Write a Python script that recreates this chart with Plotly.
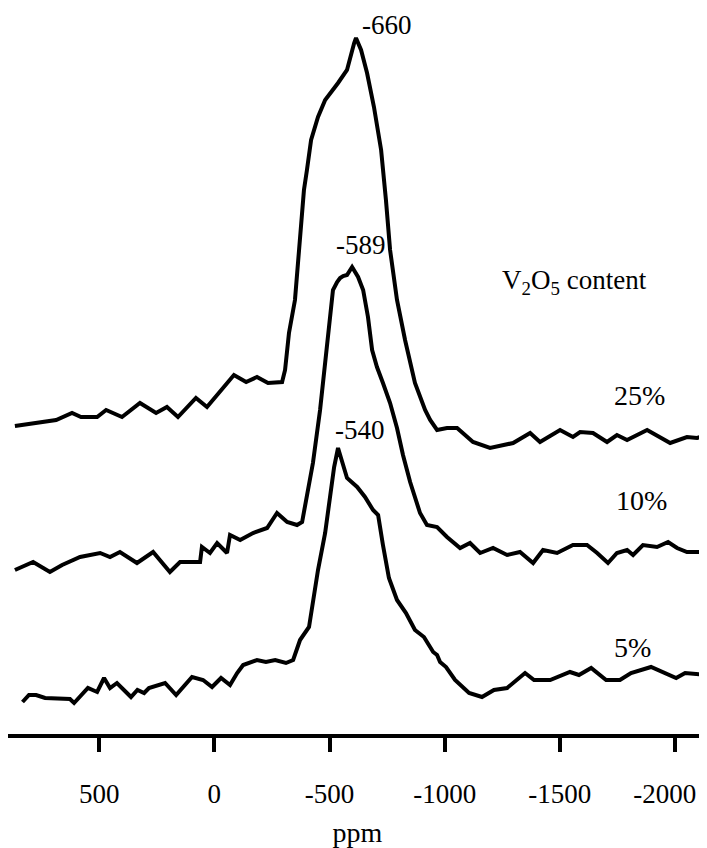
import plotly.graph_objects as go

# ---- data (ppm, intensity a.u. relative to each trace's own baseline) ----
ppm_25 = [866, 774, 687, 618, 579, 509, 470, 401, 323, 253, 206, 158, 80, 32, -85, -138, -185,
          -233, -294, -307, -324, -350, -372, -389, -402, -420, -450, -481, -537, -576, -607,
          -615, -637, -663, -693, -724, -745, -763, -793, -828, -871, -915, -937, -967, -1010,
          -1054, -1123, -1197, -1297, -1371, -1414, -1501, -1557, -1588, -1644, -1705, -1748,
          -1792, -1879, -1979, -2052, -2096, -2139]
int_25 = [4, 7, 10, 17, 13, 13, 20, 13, 27, 17, 23, 13, 32, 23, 55, 48, 53,
          47, 48, 60, 97, 130, 197, 240, 260, 290, 313, 330, 347, 360, 387,
          392, 380, 357, 323, 280, 230, 180, 130, 90, 47, 20, 10, 0, 2,
          2, -12, -18, -13, -3, -12, 0, -7, -2, -3, -12, -5,
          -10, 0, -13, -7, -8, -5]

ppm_10 = [866, 787, 714, 661, 583, 496, 453, 410, 336, 266, 193, 149, 62, 54, 19, -12, -55,
          -68, -112, -168, -229, -272, -316, -359, -381, -402, -428, -459, -481, -502, -515,
          -533, -546, -559, -576, -598, -624, -646, -667, -685, -706, -732, -763, -793, -819,
          -850, -893, -923, -967, -1010, -1067, -1110, -1154, -1210, -1271, -1327, -1384,
          -1427, -1488, -1557, -1618, -1662, -1709, -1748, -1792, -1818, -1861, -1922, -1970,
          -2009, -2052, -2139]
int_10 = [-10, -2, -12, -5, 3, 7, 3, 8, -3, 8, -12, -2, -2, 13, 7, 17, 7,
          25, 20, 27, 32, 47, 38, 35, 38, 63, 97, 150, 198, 243, 270,
          278, 282, 284, 285, 293, 283, 270, 243, 210, 193, 177, 157, 132, 105,
          78, 47, 35, 33, 23, 12, 17, 7, 12, 5, 8, -3,
          10, 7, 15, 15, 7, -3, 7, 10, 5, 15, 13, 18,
          12, 8, 8]

ppm_5 = [833, 805, 774, 735, 627, 609, 549, 509, 479, 453, 423, 362, 334, 305, 284, 214, 166,
         97, 49, 10, -29, -68, -99, -125, -185, -224, -264, -311, -342, -372, -411, -420,
         -428, -450, -481, -502, -520, -537, -554, -576, -620, -654, -689, -711, -732, -758,
         -793, -832, -871, -910, -950, -967, -980, -1006, -1045, -1106, -1162, -1214, -1271,
         -1349, -1388, -1458, -1544, -1583, -1636, -1701, -1761, -1809, -1896, -1948, -2005,
         -2044, -2139]
int_5 = [-12, -5, -5, -8, -9, -13, 2, -2, 12, 2, 7, -7, 0, -3, 2, 7, -5,
         13, 10, 3, 12, 5, 17, 25, 30, 28, 30, 27, 30, 50, 63, 77,
         90, 120, 157, 195, 223, 242, 230, 212, 203, 193, 180, 175, 145, 112,
         90, 77, 60, 53, 38, 35, 28, 23, 10, -3, -7, 0, 2,
         17, 10, 10, 18, 15, 22, 10, 10, 17, 23, 18, 12,
         17, 15]

series_names = ["25%", "10%", "5%"]
peak_labels = ["-660", "-589", "-540"]
tick_vals = [500, 0, -500, -1000, -1500, -2000]
tick_text = ["500", "0", "-500", "-1000", "-1500", "-2000"]

# ---- styling / stacking ----
offsets = [304, 174, 44]
FONT = "Liberation Serif"
label_shift = [(31, 13), (9, 22), (22, 18)]
name_pos = [(0.904, 0.468), (0.906, 0.322), (0.893, 0.119)]

fig = go.Figure()
all_x = [ppm_25, ppm_10, ppm_5]
all_y = [int_25, int_10, int_5]
for xs, ys, off, name, plab, (dx, dy), (nx, ny) in zip(all_x, all_y, offsets, series_names,
                                                      peak_labels, label_shift, name_pos):
    yv = [v + off for v in ys]
    fig.add_trace(go.Scatter(x=xs, y=yv, mode="lines", name=name,
                             line=dict(color="black", width=4), showlegend=False,
                             hoverinfo="skip"))
    k = max(range(len(yv)), key=lambda i: yv[i])
    fig.add_annotation(x=xs[k], y=yv[k], text=plab, showarrow=False,
                       xanchor="center", yanchor="middle", xshift=dx, yshift=dy,
                       font=dict(family=FONT, size=27, color="black"))
    fig.add_annotation(x=nx, y=ny, xref="paper", yref="paper", text=name, showarrow=False,
                       xanchor="center", yanchor="middle",
                       font=dict(family=FONT, size=28, color="black"))

fig.add_annotation(x=0.811, y=0.624, xref="paper", yref="paper",
                   text="V<sub>2</sub>O<sub>5</sub> content", showarrow=False,
                   xanchor="center", yanchor="middle",
                   font=dict(family=FONT, size=27, color="black"))

# the last label sits against the right edge; pad it so it stays fully visible
shown_text = tick_text[:-1] + [tick_text[-1] + "\u00a0\u00a0\u00a0"]

# the page body keeps its default 8px margin, so the figure is 8px smaller each way
fig.update_layout(
    width=699, height=840,
    margin=dict(l=0, r=0, t=2, b=114),
    paper_bgcolor="white", plot_bgcolor="white",
    showlegend=False,
)
fig.update_xaxes(
    range=[896, -2139], showgrid=False, zeroline=False,
    showline=True, linecolor="black", linewidth=4,
    ticks="outside", ticklen=14, tickwidth=4, tickcolor="black",
    tickvals=tick_vals, ticktext=shown_text, ticklabelstandoff=19,
    ticklabeloverflow="allow",
    tickfont=dict(family=FONT, size=27, color="black"),
    title=dict(text="ppm", font=dict(family=FONT, size=28, color="black"), standoff=15),
    automargin=False,
)
fig.update_yaxes(range=[0, 724], visible=False, showgrid=False, zeroline=False)

fig.write_html("out.html",
               post_script="document.documentElement.style.overflow='hidden';"
                           "document.body.style.overflow='hidden';")
